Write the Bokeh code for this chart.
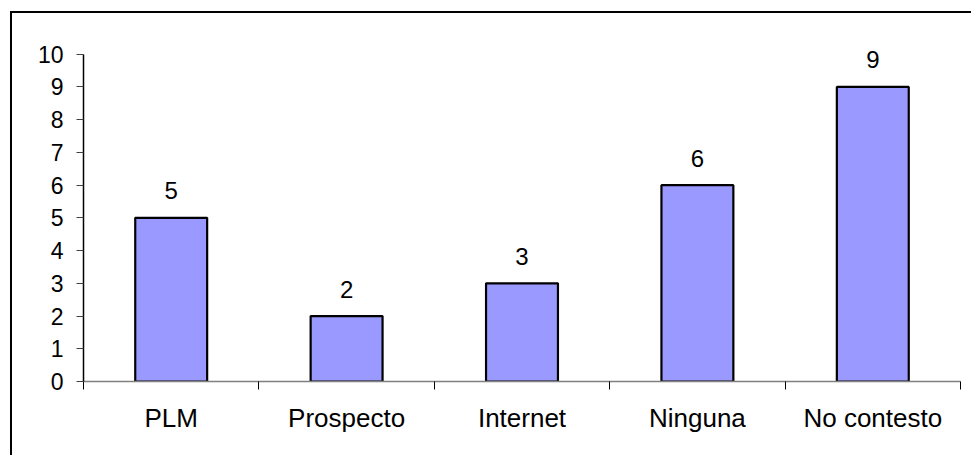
from bokeh.plotting import figure
from bokeh.models import ColumnDataSource, FixedTicker, Range1d
from bokeh.core.properties import value
from bokeh.embed import file_html
from bokeh.resources import INLINE

# Survey answers per category
categories = ["PLM", "Prospecto", "Internet", "Ninguna", "No contesto"]
counts = [5, 2, 3, 6, 9]
y_ticks = [0, 1, 2, 3, 4, 5, 6, 7, 8, 9, 10]

FONT = "Liberation Sans"
centers = [i + 0.5 for i in range(len(categories))]
source = ColumnDataSource(dict(x=centers, top=counts,
                               label=[str(c) for c in counts]))

# the frame reaches one unit above the axis top so the value labels fit
p = figure(width=971, height=455, output_backend="svg", toolbar_location=None,
           x_range=Range1d(0, len(categories)), y_range=Range1d(0, 11),
           min_border_left=83, min_border_right=11,
           min_border_top=21, min_border_bottom=74)
p.outline_line_color = None
p.grid.grid_line_color = None
p.background_fill_color = "white"
p.border_fill_color = "white"

p.vbar(x="x", top="top", bottom=0, width=0.41, source=source,
       fill_color="#9999FF", line_color="black", line_width=2.2)

p.text(x="x", y="top", text="label", source=source,
       text_font=value(FONT), text_font_size="24px", text_color="black",
       text_align="center", text_baseline="middle", y_offset=-27)

# x axis: boundary ticks as minor ticks, category names on the centers
xa = p.xaxis[0]
xa.ticker = FixedTicker(ticks=centers, minor_ticks=list(range(len(categories) + 1)))
xa.major_label_overrides = {c: name for c, name in zip(centers, categories)}
xa.major_tick_line_color = None
xa.major_tick_out = 0
xa.major_tick_in = 0
xa.minor_tick_in = 0
xa.minor_tick_out = 8
xa.minor_tick_line_color = "black"
xa.axis_line_color = "#808080"
xa.axis_line_width = 1.5
xa.major_label_standoff = 13
xa.major_label_text_font = FONT
xa.major_label_text_font_size = "26px"
xa.major_label_text_color = "black"

ya = p.yaxis[0]
ya.ticker = FixedTicker(ticks=y_ticks)
ya.bounds = (0, 10)
ya.major_tick_in = 0
ya.major_tick_out = 7
ya.minor_tick_line_color = None
ya.major_tick_line_color = "#404040"
ya.axis_line_color = "black"
ya.axis_line_width = 1.5
ya.major_label_standoff = 13
ya.major_label_text_font = FONT
ya.major_label_text_font_size = "23px"
ya.major_label_text_color = "black"

html = file_html(p, INLINE)
# chart area frame (left and top edges fall inside the page)
frame = ('<div style="position:fixed;left:10px;top:11px;right:-10px;bottom:-10px;'
         'border-left:2px solid #000;border-top:2px solid #000;'
         'pointer-events:none;"></div>')
html = html.replace("</body>", frame + "</body>")
open("out.html", "w").write(html)
